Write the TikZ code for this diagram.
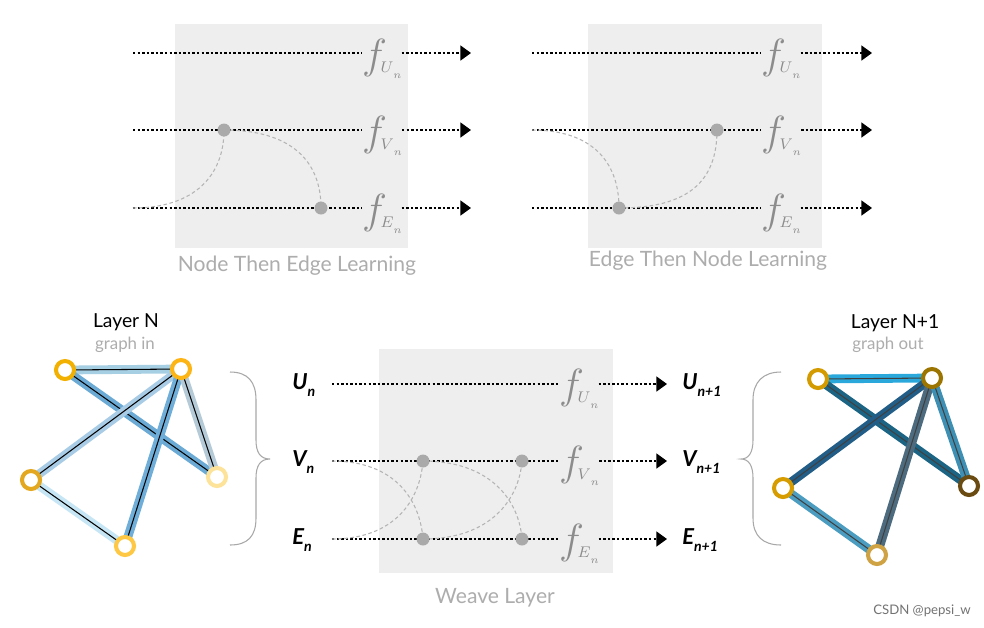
\RequirePackage{fix-cm}
\documentclass[tikz,border=0pt]{standalone}
\usepackage{fontspec}
\setmainfont{Lato}
\usetikzlibrary{arrows.meta}
\definecolor{boxgray}{HTML}{EEEEEE}
\definecolor{dotgray}{HTML}{AAAAAA}
\definecolor{linkgray}{HTML}{B4B4B4}
\definecolor{fgray}{HTML}{8C8C8C}
\definecolor{capgray}{HTML}{ADADAD}
\definecolor{bracegray}{HTML}{A8A8A8}
\definecolor{lA}{HTML}{A6CFE3}
\definecolor{lB}{HTML}{6AAAD4}
\definecolor{lC}{HTML}{A9CCE6}
\definecolor{lD}{HTML}{6EAED8}
\definecolor{lE}{HTML}{B4CAD6}
\definecolor{lF}{HTML}{C6E6F5}
\definecolor{rA}{HTML}{2AA8DC}
\definecolor{rB}{HTML}{1C6484}
\definecolor{rC}{HTML}{215D87}
\definecolor{rD}{HTML}{4D6B7F}
\definecolor{rE}{HTML}{3D8FB3}
\definecolor{rF}{HTML}{4A9CC0}
\definecolor{yA}{HTML}{F2B000}
\definecolor{yB}{HTML}{FDB515}
\definecolor{yC}{HTML}{E4A820}
\definecolor{yD}{HTML}{FDE39A}
\definecolor{yE}{HTML}{FEC845}
\definecolor{gA}{HTML}{D39B00}
\definecolor{gB}{HTML}{9C7400}
\definecolor{gC}{HTML}{D69C00}
\definecolor{gD}{HTML}{6A4C12}
\definecolor{gE}{HTML}{CFA244}
\newcommand{\fsub}[1]{{\fontsize{24}{24}\selectfont$f$}\kern-3.5pt\raisebox{-2.8pt}{\fontsize{8.8}{9}\selectfont$#1$}\raisebox{-6pt}{\fontsize{6}{6}\selectfont$n$}}
\newcommand{\iolab}[2]{{\fontsize{12.5}{13}\selectfont\bfseries\itshape #1\raisebox{-4pt}{\fontsize{8}{9}\selectfont #2}}}
\pgfdeclarelayer{bg}
\pgfdeclarelayer{edges}
\pgfsetlayers{bg,edges,main}
\tikzset{
  panel/.style={fill=boxgray},
  flow/.style={draw=black, line width=0.8pt, dash pattern=on 1.4pt off 1.2pt},
  arr/.style={flow, -{Triangle[length=6pt,width=8.5pt]}},
  linkc/.style={draw=linkgray, line width=0.6pt, dash pattern=on 2pt off 1.5pt},
  dotn/.style={circle, fill=dotgray, inner sep=0pt, minimum size=0.26cm},
  flab/.style={inner sep=0pt, outer sep=0pt, text=fgray, anchor=base west},
  caption/.style={text=capgray, font=\fontsize{12}{14}\selectfont},
  title/.style={text=black, font=\fontsize{11}{13}\selectfont},
  subtitle/.style={text=capgray, font=\fontsize{9.6}{11}\selectfont},
  iol/.style={inner sep=0pt, anchor=base west},
  ring/.style={circle, draw=#1, fill=white, line width=2.3pt, minimum size=0.36cm, inner sep=0pt},
  band/.style={draw=#1, line width=5pt},
  core/.style={draw=#1, line width=0.6pt},
  bracec/.style={draw=bracegray, line width=0.6pt}
}
\begin{document}
\begin{tikzpicture}[x=0.02cm,y=-0.02cm]
\path[use as bounding box] (0,0) rectangle (984,627);

\begin{pgfonlayer}{bg}
\fill[white] (0,0) rectangle (984,627);
\path[panel] (175,24) rectangle (408,248);
\path[panel] (588,24) rectangle (822,248);
\path[panel] (379,349) rectangle (613,573);
\end{pgfonlayer}

% ================= Node Then Edge Learning =================
\coordinate (aU0) at (133,53);  \coordinate (aU1) at (471,53);
\coordinate (aV0) at (133,130); \coordinate (aV1) at (471,130);
\coordinate (aE0) at (133,208); \coordinate (aE1) at (471,208);
\node[flab] (afU) at (362,68) {\fsub{U}};
\node[flab] (afV) at (362,145) {\fsub{V}};
\node[flab] (afE) at (362,223) {\fsub{E}};
\node[dotn] (ad1) at (224,130) {};
\node[dotn] (ad2) at (321,208) {};
\node[caption] (acap) at (297,266) {Node Then Edge Learning};
\begin{pgfonlayer}{edges}
\draw[flow] (aU0) -- (aU0 -| afU.west); \draw[arr] (aU0 -| afU.east) -- (aU1);
\draw[flow] (aV0) -- (aV0 -| afV.west); \draw[arr] (aV0 -| afV.east) -- (aV1);
\draw[flow] (aE0) -- (aE0 -| afE.west); \draw[arr] (aE0 -| afE.east) -- (aE1);
\draw[linkc] (aE0) .. controls (195,208) and (224,175) .. (ad1.center);
\draw[linkc] (ad1.center) .. controls (290,130) and (321,160) .. (ad2.center);
\end{pgfonlayer}

% ================= Edge Then Node Learning =================
\coordinate (bU0) at (532,53);  \coordinate (bU1) at (872,53);
\coordinate (bV0) at (532,130); \coordinate (bV1) at (872,130);
\coordinate (bE0) at (532,208); \coordinate (bE1) at (872,208);
\node[flab] (bfU) at (761,68) {\fsub{U}};
\node[flab] (bfV) at (761,145) {\fsub{V}};
\node[flab] (bfE) at (761,223) {\fsub{E}};
\node[dotn] (bd1) at (619,208) {};
\node[dotn] (bd2) at (717,130) {};
\node[caption] (bcap) at (708,261) {Edge Then Node Learning};
\begin{pgfonlayer}{edges}
\draw[flow] (bU0) -- (bU0 -| bfU.west); \draw[arr] (bU0 -| bfU.east) -- (bU1);
\draw[flow] (bV0) -- (bV0 -| bfV.west); \draw[arr] (bV0 -| bfV.east) -- (bV1);
\draw[flow] (bE0) -- (bE0 -| bfE.west); \draw[arr] (bE0 -| bfE.east) -- (bE1);
\draw[linkc] (bV0) .. controls (590,130) and (619,160) .. (bd1.center);
\draw[linkc] (bd1.center) .. controls (690,208) and (717,180) .. (bd2.center);
\end{pgfonlayer}

% ================= Weave Layer =================
\coordinate (wU0) at (332,384); \coordinate (wU1) at (667,384);
\coordinate (wV0) at (332,461); \coordinate (wV1) at (667,461);
\coordinate (wE0) at (332,539); \coordinate (wE1) at (667,539);
\node[flab] (wfU) at (559,398) {\fsub{U}};
\node[flab] (wfV) at (559,475) {\fsub{V}};
\node[flab] (wfE) at (559,553) {\fsub{E}};
\node[dotn] (wd1) at (423,461) {};
\node[dotn] (wd2) at (522,461) {};
\node[dotn] (wd3) at (423,539) {};
\node[dotn] (wd4) at (522,539) {};
\node[caption] (wcap) at (495,598) {Weave Layer};
\node[iol] (inU) at (292,389) {\iolab{U}{n}};
\node[iol] (inV) at (292,466) {\iolab{V}{n}};
\node[iol] (inE) at (292,544) {\iolab{E}{n}};
\node[iol] (outU) at (682,389) {\iolab{U}{n+1}};
\node[iol] (outV) at (682,466) {\iolab{V}{n+1}};
\node[iol] (outE) at (682,544) {\iolab{E}{n+1}};
\begin{pgfonlayer}{edges}
\draw[flow] (wU0) -- (wU0 -| wfU.west); \draw[arr] (wU0 -| wfU.east) -- (wU1);
\draw[flow] (wV0) -- (wV0 -| wfV.west); \draw[arr] (wV0 -| wfV.east) -- (wV1);
\draw[flow] (wE0) -- (wE0 -| wfE.west); \draw[arr] (wE0 -| wfE.east) -- (wE1);
\draw[linkc] (wV0) .. controls (395,461) and (420,500) .. (wd3.center);
\draw[linkc] (wE0) .. controls (395,539) and (420,500) .. (wd1.center);
\draw[linkc] (wd1.center) .. controls (490,461) and (519,500) .. (wd4.center);
\draw[linkc] (wd3.center) .. controls (490,539) and (519,500) .. (wd2.center);
\end{pgfonlayer}

% ================= braces =================
\draw[bracec] (230,372) .. controls (248,372) and (256,382) .. (256,400) -- (256,440)
  .. controls (256,452) and (260,459) .. (270,459)
  .. controls (260,459) and (256,466) .. (256,478) -- (256,518)
  .. controls (256,536) and (248,545) .. (230,545);
\draw[bracec] (781,372) .. controls (763,372) and (753,382) .. (753,400) -- (753,440)
  .. controls (753,452) and (749,459) .. (741,459)
  .. controls (749,459) and (753,466) .. (753,478) -- (753,518)
  .. controls (753,536) and (763,545) .. (781,545);

% ================= Layer N graph =================
\node[title] (tN) at (126,322) {Layer N};
\node[subtitle] (sN) at (125,345) {graph in};
\node[ring=yA] (n1) at (65,370) {};
\node[ring=yB] (n2) at (181,369) {};
\node[ring=yC] (n3) at (31,480) {};
\node[ring=yD] (n4) at (217,477) {};
\node[ring=yE] (n5) at (125,546) {};
\begin{pgfonlayer}{edges}
\draw[band=lA] (n1.center) -- (n2.center); \draw[core=black] (n1.center) -- (n2.center);
\draw[band=lB] (n1.center) -- (n4.center); \draw[core=black] (n1.center) -- (n4.center);
\draw[band=lC] (n2.center) -- (n3.center); \draw[core=black] (n2.center) -- (n3.center);
\draw[band=lD] (n2.center) -- (n5.center); \draw[core=black] (n2.center) -- (n5.center);
\draw[band=lE] (n2.center) -- (n4.center); \draw[core=black] (n2.center) -- (n4.center);
\draw[band=lF] (n3.center) -- (n5.center); \draw[core=black] (n3.center) -- (n5.center);
\end{pgfonlayer}

% ================= Layer N+1 graph =================
\node[title] (tN1) at (895,323) {Layer N+1};
\node[subtitle] (sN1) at (888,345) {graph out};
\node[ring=gA] (m1) at (818,379) {};
\node[ring=gB] (m2) at (932,378) {};
\node[ring=gC] (m3) at (783,488) {};
\node[ring=gD] (m4) at (969,486) {};
\node[ring=gE] (m5) at (877,555) {};
\begin{pgfonlayer}{edges}
\draw[band=rA] (m1.center) -- (m2.center); \draw[core=black!75] (m1.center) -- (m2.center);
\draw[band=rB] (m1.center) -- (m4.center); \draw[core=black!75] (m1.center) -- (m4.center);
\draw[band=rC] (m2.center) -- (m3.center); \draw[core=black!75] (m2.center) -- (m3.center);
\draw[band=rD] (m2.center) -- (m5.center); \draw[core=black!75] (m2.center) -- (m5.center);
\draw[band=rE] (m2.center) -- (m4.center); \draw[core=black!75] (m2.center) -- (m4.center);
\draw[band=rF] (m3.center) -- (m5.center); \draw[core=black!75] (m3.center) -- (m5.center);
\end{pgfonlayer}

\node[text=black!55, font=\fontsize{7.5}{9}\selectfont] (wm) at (922,611) {CSDN @pepsi\_w};
\end{tikzpicture}
\end{document}
